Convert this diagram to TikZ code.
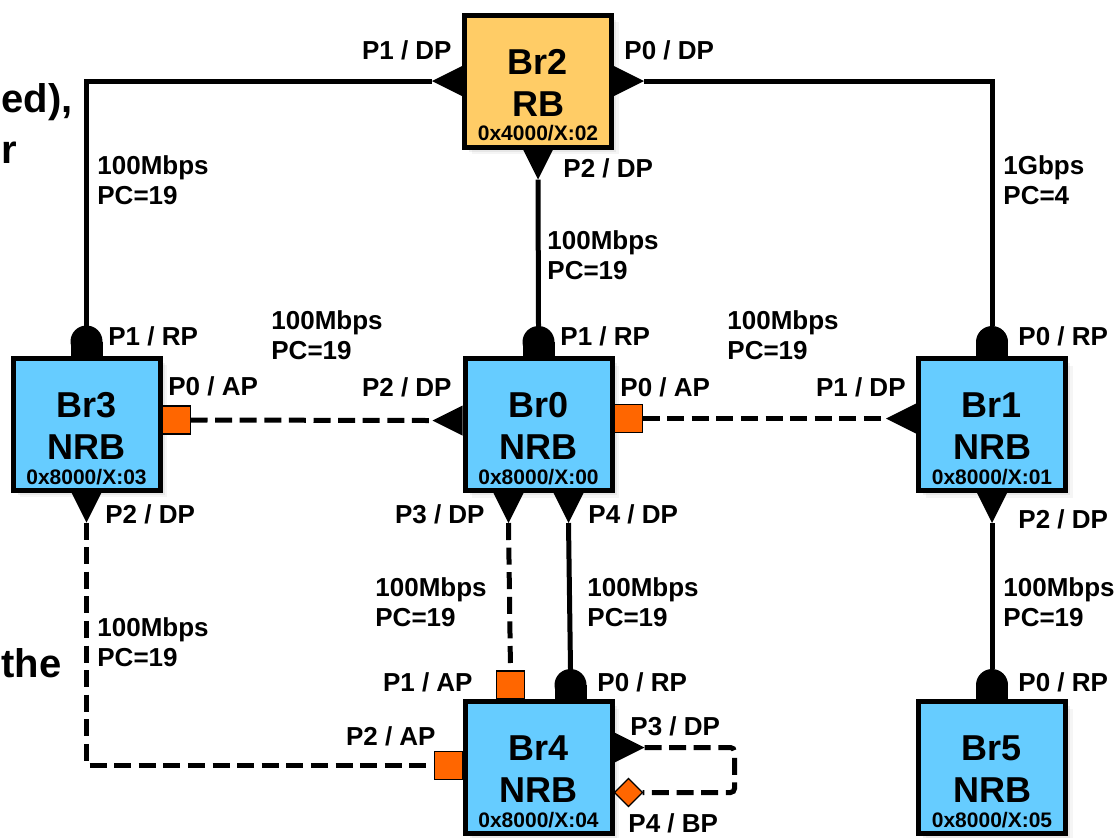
\documentclass[tikz,border=0pt]{standalone}
\usepackage{fontspec}
\setmainfont{Liberation Sans}
\usetikzlibrary{shadows,calc}

\definecolor{nrbblue}{HTML}{66CCFF}
\definecolor{rbgold}{HTML}{FFCC66}
\definecolor{portorange}{HTML}{FF6600}

% three lines of a bridge box: name, role, bridge id
\newcommand{\brtext}[3]{\rule{0pt}{26.9pt}#1\\#2\\[-8.7pt]{\fontsize{10.5}{12}\selectfont #3}}

\tikzset{
  bridge/.style={draw, line width=2.5pt, fill=nrbblue, minimum width=73.5pt,
    minimum height=66pt, inner sep=0pt, align=center,
    font=\bfseries\fontsize{18}{21}\selectfont,
    drop shadow={shadow xshift=1.2pt, shadow yshift=-1.2pt, opacity=0.15},
    drop shadow={shadow xshift=2.4pt, shadow yshift=-2.4pt, opacity=0.12},
    drop shadow={shadow xshift=3.6pt, shadow yshift=-3.6pt, opacity=0.08}},
  rootbridge/.style={bridge, fill=rbgold},
  link/.style={line width=2.5pt},
  backup/.style={line width=2.5pt, dash pattern=on 8.5pt off 3.8pt},
  lbl/.style={font=\bfseries\fontsize{13}{15}\selectfont, inner sep=0pt, align=left},
  frag/.style={font=\bfseries\fontsize{20}{24}\selectfont, inner sep=0pt, anchor=base west},
  % port markers, all pointing along +x
  pics/dport/.style={code={
    \fill (0,15) -- (30,0) -- (0,-15) -- cycle;
    \coordinate (-tip) at (30,0);}},
  pics/rport/.style={code={
    \fill (0,-16) rectangle (14,16);
    \fill (14,0) circle[radius=16];
    \coordinate (-tip) at (30,0);}},
  pics/aport/.style={code={
    \filldraw[fill=portorange, line width=0.6pt] (0,-14) rectangle (28,14);
    \coordinate (-tip) at (28,0);}},
  pics/bport/.style={code={
    \filldraw[fill=portorange, line width=0.6pt] (0,0) -- (14,14) -- (28,0) -- (14,-14) -- cycle;
    \coordinate (-tip) at (28,0);}},
}

\begin{document}
\begin{tikzpicture}[x=0.5pt, y=-0.5pt]
    \useasboundingbox (0,0) rectangle (1118,837);

    % Bridges
    \node[rootbridge] (br2) at (538,81) {\brtext{Br2}{RB}{0x4000/X:02}};
    \node[bridge] (br3) at (86.5,424) {\brtext{Br3}{NRB}{0x8000/X:03}};
    \node[bridge] (br0) at (538.5,424.5) {\brtext{Br0}{NRB}{0x8000/X:00}};
    \node[bridge] (br1) at (992,424.5) {\brtext{Br1}{NRB}{0x8000/X:01}};
    \node[bridge] (br4) at (538.5,767.5) {\brtext{Br4}{NRB}{0x8000/X:04}};
    \node[bridge] (br5) at (992,767.5) {\brtext{Br5}{NRB}{0x8000/X:05}};

    % Ports
    \pic[rotate=180] (br2p1) at (br2.west) {dport};
    \pic (br2p0) at (br2.east) {dport};
    \pic[rotate=-90] (br2p2) at (br2.south) {dport};

    \pic[rotate=90] (br3p1) at (br3.north) {rport};
    \pic (br3p0) at ($(br3.east)+(0,-4)$) {aport};
    \pic[rotate=-90] (br3p2) at (br3.south) {dport};

    \pic[rotate=90] (br0p1) at (br0.north) {rport};
    \pic[rotate=180] (br0p2) at ($(br0.west)+(0,-4)$) {dport};
    \pic (br0p0) at ($(br0.east)+(0,-6)$) {aport};
    \pic[rotate=-90] (br0p3) at ($(br0.south)+(-30,0)$) {dport};
    \pic[rotate=-90] (br0p4) at ($(br0.south)+(30,0)$) {dport};

    \pic[rotate=90] (br1p0) at (br1.north) {rport};
    \pic[rotate=180] (br1p1) at ($(br1.west)+(0,-6)$) {dport};
    \pic[rotate=-90] (br1p2) at (br1.south) {dport};

    \pic[rotate=90] (br4p1) at ($(br4.north)+(-28,0)$) {aport};
    \pic[rotate=90] (br4p0) at ($(br4.north)+(32,0)$) {rport};
    \pic[rotate=180] (br4p2) at ($(br4.west)+(0,-2)$) {aport};
    \pic (br4p3) at ($(br4.east)+(0,-20)$) {dport};
    \pic (br4p4) at ($(br4.east)+(0,25)$) {bport};

    \pic[rotate=90] (br5p0) at (br5.north) {rport};

    % Links
    \draw[link] (br2p1-tip) -| (br3p1-tip);
    \draw[link] (br2p0-tip) -| (br1p0-tip);
    \draw[link] (br2p2-tip) -- (br0p1-tip);
    \draw[backup] (br3p0-tip) -- (br0p2-tip);
    \draw[backup] (br0p0-tip) -- (br1p1-tip);
    \draw[backup] (br3p2-tip) |- (br4p2-tip);
    \draw[backup] (br0p3-tip) -- (br4p1-tip);
    \draw[link] (br0p4-tip) -- (br4p0-tip);
    \draw[backup, rounded corners=2pt] (br4p3-tip) -- ++(90,0) |- (br4p4-tip);
    \draw[link] (br1p2-tip) -- (br5p0-tip);

    % Port labels
    \node[lbl, anchor=east] (t21) at (452,50) {P1 / DP};
    \node[lbl, anchor=west] (t20) at (624,50) {P0 / DP};
    \node[lbl, anchor=west] (t22) at (563,168) {P2 / DP};
    \node[lbl, anchor=west] (t31) at (108,336) {P1 / RP};
    \node[lbl, anchor=west] (t30) at (168,386) {P0 / AP};
    \node[lbl, anchor=west] (t32) at (105,514) {P2 / DP};
    \node[lbl, anchor=west] (t01) at (560,336) {P1 / RP};
    \node[lbl, anchor=east] (t02) at (452,387) {P2 / DP};
    \node[lbl, anchor=west] (t00) at (620,387) {P0 / AP};
    \node[lbl, anchor=east] (t03) at (485,514) {P3 / DP};
    \node[lbl, anchor=west] (t04) at (588,514) {P4 / DP};
    \node[lbl, anchor=west] (t10) at (1018,336) {P0 / RP};
    \node[lbl, anchor=east] (t11) at (906,387) {P1 / DP};
    \node[lbl, anchor=west] (t12) at (1018,519) {P2 / DP};
    \node[lbl, anchor=east] (t41) at (473,682) {P1 / AP};
    \node[lbl, anchor=west] (t40) at (597,682) {P0 / RP};
    \node[lbl, anchor=east] (t42) at (436,736) {P2 / AP};
    \node[lbl, anchor=west] (t43) at (630,726) {P3 / DP};
    \node[lbl, anchor=west] (t44) at (628,823) {P4 / BP};
    \node[lbl, anchor=west] (t50) at (1018,682) {P0 / RP};

    % Link speeds and path costs
    \node[lbl, anchor=west] (c23) at (97,180) {100Mbps\\PC=19};
    \node[lbl, anchor=west] (c21) at (1003,180) {1Gbps\\PC=4};
    \node[lbl, anchor=west] (c20) at (547,255) {100Mbps\\PC=19};
    \node[lbl, anchor=west] (c30) at (271,335) {100Mbps\\PC=19};
    \node[lbl, anchor=west] (c01) at (727,335) {100Mbps\\PC=19};
    \node[lbl, anchor=west] (c04a) at (375,602) {100Mbps\\PC=19};
    \node[lbl, anchor=west] (c04b) at (587,602) {100Mbps\\PC=19};
    \node[lbl, anchor=west] (c15) at (1003,602) {100Mbps\\PC=19};
    \node[lbl, anchor=west] (c34) at (97,642) {100Mbps\\PC=19};

    % Text at the left edge
    \node[frag] (f1) at (1,112) {ed),};
    \node[frag] (f2) at (1,163) {r};
    \node[frag] (f3) at (1,677) {the};
\end{tikzpicture}
\end{document}
